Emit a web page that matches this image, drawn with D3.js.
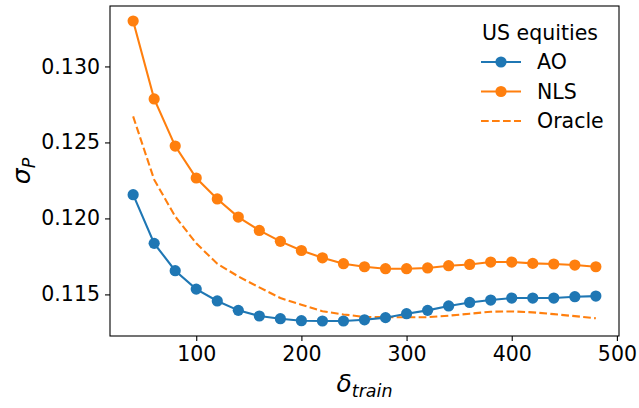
<!DOCTYPE html>
<html>
<head>
<meta charset="utf-8">
<script src="https://cdn.jsdelivr.net/npm/d3@7"></script>
<style>
  body { margin: 0; background: #fff; }
  svg { display: block; font-family: "DejaVu Sans", sans-serif; }
</style>
</head>
<body>
<svg id="chart" width="639" height="408"></svg>
<script>
// Training window lengths
const deltaTrain = [40, 60, 80, 100, 120, 140, 160, 180, 200, 220, 240, 260, 280, 300, 320, 340, 360, 380, 400, 420, 440, 460, 480];

// Portfolio volatility per method
const aoValues = [0.12156, 0.11836, 0.11656, 0.11535, 0.11457, 0.11395, 0.11358, 0.11340, 0.11327, 0.11325, 0.11325, 0.11333, 0.11347, 0.11373, 0.11395, 0.11424, 0.11447, 0.11463, 0.11476, 0.11476, 0.11476, 0.11485, 0.11489];
const nlsValues = [0.13299, 0.12786, 0.12476, 0.12266, 0.12128, 0.12009, 0.11921, 0.11849, 0.11789, 0.11741, 0.11702, 0.11682, 0.11669, 0.11669, 0.11674, 0.11689, 0.11697, 0.11713, 0.11713, 0.11704, 0.11700, 0.11693, 0.11682];
const oracleValues = [0.12671, 0.12255, 0.12013, 0.11836, 0.11702, 0.11618, 0.11546, 0.11476, 0.11432, 0.11389, 0.11368, 0.11352, 0.11350, 0.11350, 0.11350, 0.11360, 0.11373, 0.11386, 0.11388, 0.11382, 0.11370, 0.11357, 0.11343];

const xTicks = [100, 200, 300, 400, 500];
const yTicks = [0.115, 0.120, 0.125, 0.130];

const legendTitle = "US equities";
const seriesNames = ["AO", "NLS", "Oracle"];

const blue = "#1f77b4", orange = "#ff7f0e";
const fontSize = "20.5px";

const svg = d3.select("#chart");
const plot = { left: 110, right: 619, top: 6, bottom: 336 };

// Padded domains (5% of the data range on each side)
function padded(vals) {
  const lo = d3.min(vals), hi = d3.max(vals), p = (hi - lo) * 0.05;
  return [lo - p, hi + p];
}
const x = d3.scaleLinear().domain(padded(deltaTrain)).range([plot.left, plot.right]);
const y = d3.scaleLinear().domain(padded(aoValues.concat(nlsValues, oracleValues))).range([plot.bottom, plot.top]);

// Axes
const xAxis = svg.append("g")
  .attr("transform", `translate(0,${plot.bottom})`)
  .call(d3.axisBottom(x).tickValues(xTicks).tickFormat(d3.format("d")).tickSize(5).tickPadding(5));
const yAxis = svg.append("g")
  .attr("transform", `translate(${plot.left},0)`)
  .call(d3.axisLeft(y).tickValues(yTicks).tickFormat(d3.format(".3f")).tickSize(5).tickPadding(5));

[xAxis, yAxis].forEach(g => {
  g.select(".domain").remove();
  g.selectAll(".tick line").attr("stroke", "#000").attr("stroke-width", 1.1);
  g.selectAll(".tick text").attr("fill", "#000").style("font-size", fontSize).style("font-family", "DejaVu Sans");
});

// Frame
svg.append("rect")
  .attr("x", plot.left).attr("y", plot.top)
  .attr("width", plot.right - plot.left).attr("height", plot.bottom - plot.top)
  .attr("fill", "none").attr("stroke", "#000").attr("stroke-width", 1.1);

const line = d3.line().x((d, i) => x(deltaTrain[i])).y(d => y(d));

// Oracle (dashed, no markers)
svg.append("path").datum(oracleValues)
  .attr("d", line).attr("fill", "none")
  .attr("stroke", orange).attr("stroke-width", 2.1)
  .attr("stroke-dasharray", "7.7,3.3");

// Series with markers
[[aoValues, blue], [nlsValues, orange]].forEach(([vals, color]) => {
  svg.append("path").datum(vals)
    .attr("d", line).attr("fill", "none")
    .attr("stroke", color).attr("stroke-width", 2.1);
  svg.append("g").selectAll("circle").data(vals).join("circle")
    .attr("cx", (d, i) => x(deltaTrain[i]))
    .attr("cy", d => y(d))
    .attr("r", 5.6)
    .attr("fill", color);
});

// Axis labels (math italic)
const xl = svg.append("text")
  .attr("x", (plot.left + plot.right) / 2).attr("y", 392)
  .attr("text-anchor", "middle").attr("fill", "#000")
  .style("font-family", "DejaVu Sans").style("font-style", "italic");
xl.append("tspan").text("δ").style("font-size", "25px");
xl.append("tspan").text("train").attr("dy", 5).style("font-size", "17.5px");

const yl = svg.append("text")
  .attr("transform", `translate(30,${(plot.top + plot.bottom) / 2}) rotate(-90)`)
  .attr("text-anchor", "middle").attr("fill", "#000")
  .style("font-family", "DejaVu Sans").style("font-style", "italic");
yl.append("tspan").text("σ").style("font-size", "25px");
yl.append("tspan").text("P").attr("dy", 5).style("font-size", "17.5px");

// Legend
const lg = svg.append("g");
lg.append("text").attr("x", 540).attr("y", 40)
  .attr("text-anchor", "middle").attr("fill", "#000")
  .style("font-size", fontSize).text(legendTitle);
const entries = [
  { name: seriesNames[0], color: blue, marker: true, dash: null },
  { name: seriesNames[1], color: orange, marker: true, dash: null },
  { name: seriesNames[2], color: orange, marker: false, dash: "7.7,3.3" }
];
entries.forEach((e, i) => {
  const cy = 62 + i * 29.5;
  lg.append("line").attr("x1", 481).attr("x2", 521).attr("y1", cy).attr("y2", cy)
    .attr("stroke", e.color).attr("stroke-width", 2.1)
    .attr("stroke-dasharray", e.dash);
  if (e.marker) lg.append("circle").attr("cx", 501).attr("cy", cy).attr("r", 5.6).attr("fill", e.color);
  lg.append("text").attr("x", 537).attr("y", cy + 7)
    .attr("fill", "#000").style("font-size", fontSize).text(e.name);
});
</script>
</body>
</html>
